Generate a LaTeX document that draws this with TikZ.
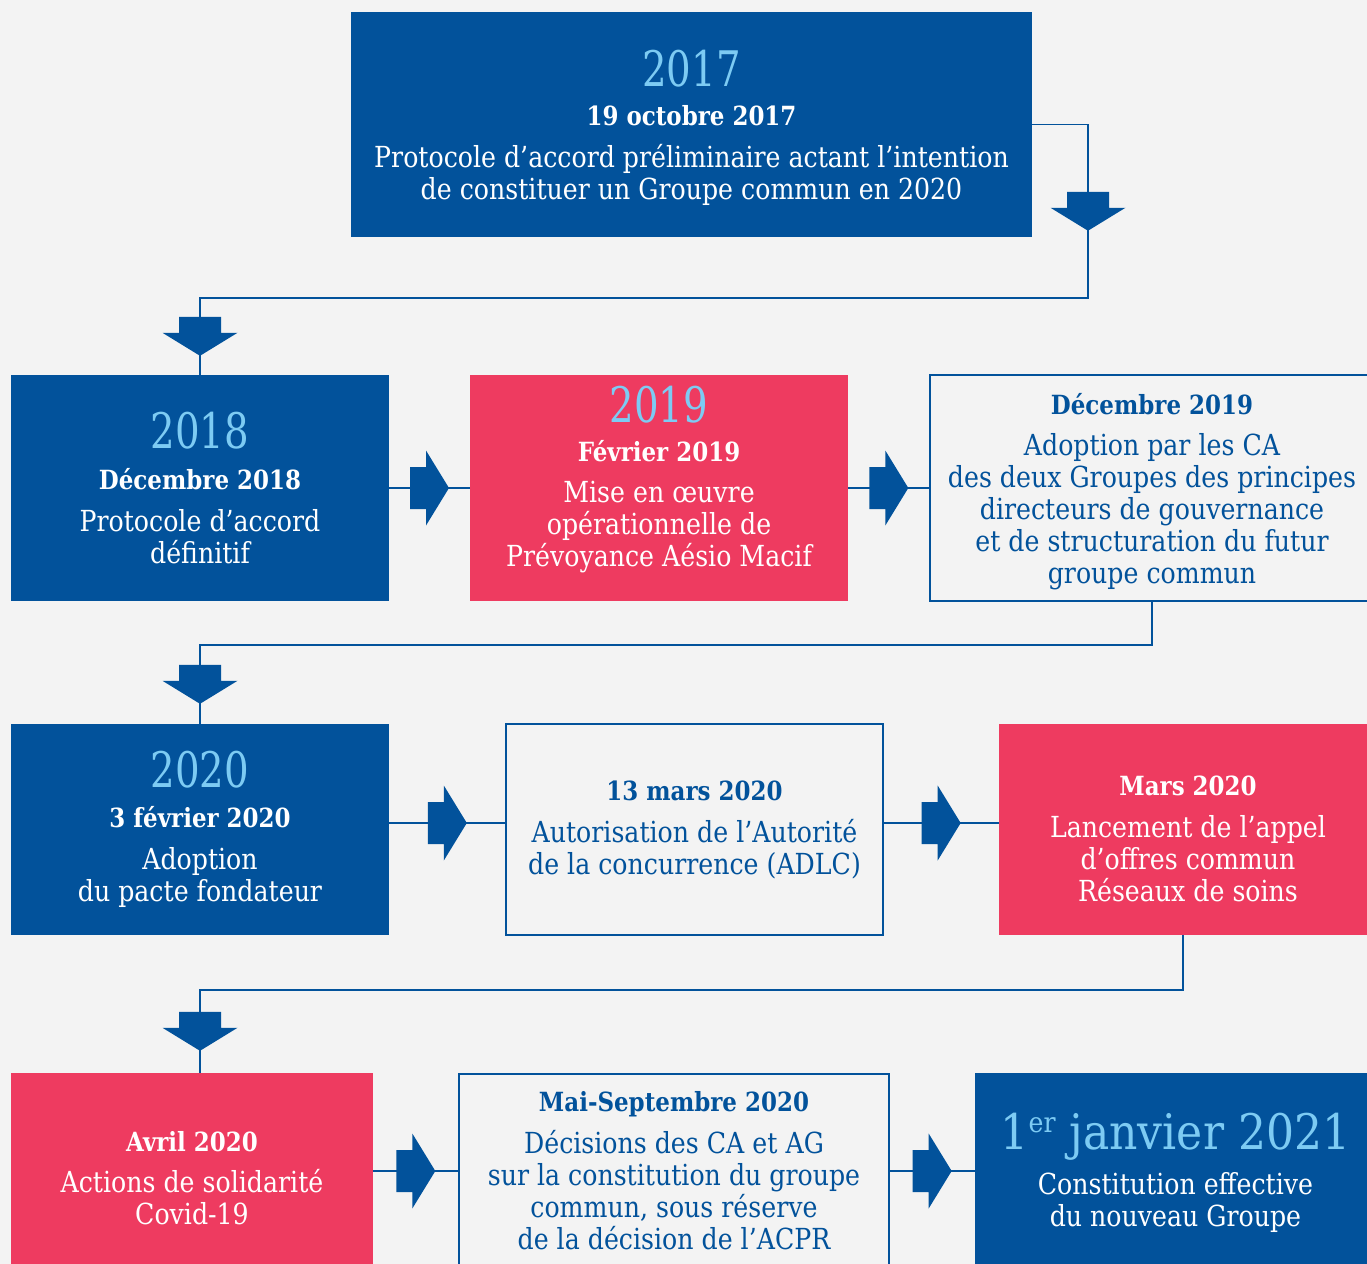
\documentclass[tikz,border=0pt]{standalone}
\usepackage{fontspec}
\setmainfont{DejaVu Serif}[FakeStretch=0.87]
\newfontfamily\yearfont{DejaVu Serif}[FakeStretch=0.79]
\newfontfamily\janfont{DejaVu Serif}[FakeStretch=0.9]
\usetikzlibrary{calc}
\definecolor{mblue}{RGB}{2,82,155}
\definecolor{mpink}{RGB}{238,59,96}
\definecolor{lblue}{RGB}{125,203,243}
\definecolor{bg}{RGB}{243,243,243}
\newcommand\yr[1]{{\yearfont\color{lblue}\fontsize{24.5}{16}\selectfont #1}}
\newcommand\dt[1]{{\bfseries\fontsize{13.2}{16}\selectfont #1}}
\newcommand\bodysize{\fontsize{14.5}{16}\selectfont}
\tikzset{
	box/.style={rectangle,inner sep=0pt,align=center,font=\bodysize},
	bluebox/.style={box,fill=mblue,text=white},
	pinkbox/.style={box,fill=mpink,text=white},
	linebox/.style={box,draw=mblue,line width=0.75pt,fill=bg,text=mblue},
	link/.style={draw=mblue,line width=0.75pt},
	rarrow/.pic={\fill[mblue] (-19.5,-21) -- (-3.5,-21) -- (-3.5,-37.5) -- (19.5,0) -- (-3.5,37.5) -- (-3.5,21) -- (-19.5,21) -- cycle;}
}
\begin{document}
\begin{tikzpicture}[x=0.5pt,y=-0.5pt]
	\useasboundingbox (0,0) rectangle (1367,1264);
	\clip (0,0) rectangle (1367,1264);
	\fill[bg] (0,0) rectangle (1367,1264);
	% boxes
	\node[bluebox,minimum width=340.5pt,minimum height=112.5pt,text depth=0pt] (b17) at (691.5,124.5)
		{\yr{2017}\\[3.5pt]\dt{19 octobre 2017}\\[5pt]Protocole d’accord préliminaire actant l’intention\\de constituer un Groupe commun en 2020};
	\node[bluebox,minimum width=189pt,minimum height=113pt] (b18) at (200,488)
		{\yr{2018}\\[4.5pt]\dt{Décembre 2018}\\[5pt]Protocole d’accord\\définitif};
	\node[pinkbox,minimum width=189pt,minimum height=113pt,text depth=12pt] (b19) at (659,488)
		{\yr{2019}\\[3.5pt]\dt{Février 2019}\\[4.5pt]Mise en œuvre\\opérationnelle de\\Prévoyance Aésio Macif};
	\node[linebox,minimum width=222pt,minimum height=113pt,text depth=0pt] (bdec19) at (1152,488)
		{\dt{Décembre 2019}\\[4.5pt]Adoption par les CA\\des deux Groupes des principes\\directeurs de gouvernance\\et de structuration du futur\\groupe commun};
	\node[bluebox,minimum width=189pt,minimum height=105.5pt] (b20) at (200,829.5)
		{\yr{2020}\\[4pt]\dt{3 février 2020}\\[5pt]Adoption\\du pacte fondateur};
	\node[linebox,minimum width=188.5pt,minimum height=105.5pt] (bmars13) at (694.5,829.5)
		{\dt{13 mars 2020}\\[5pt]Autorisation de l’Autorité\\de la concurrence (ADLC)};
	\node[pinkbox,minimum width=189pt,minimum height=105.5pt,text height=72pt] (bmars20) at (1188,829.5)
		{\dt{Mars 2020}\\[5pt]Lancement de l’appel\\d’offres commun\\Réseaux de soins};
	\node[pinkbox,minimum width=181pt,minimum height=105.5pt] (bavr) at (192,1178.5)
		{\dt{Avril 2020}\\[4.5pt]Actions de solidarité\\Covid-19};
	\node[linebox,minimum width=215pt,minimum height=97pt] (bmai) at (674,1171)
		{\dt{Mai-Septembre 2020}\\[5pt]Décisions des CA et AG\\sur la constitution du groupe\\commun, sous réserve\\de la décision de l’ACPR};
	\node[bluebox,minimum width=200.5pt,minimum height=97pt,text depth=0.5pt] (bjan) at (1175.5,1170)
		{{\janfont\color{lblue}\fontsize{24.5}{16}\selectfont 1\raisebox{8.5pt}{\fontsize{14}{14}\selectfont er} janvier 2021}\\[5pt]Constitution effective\\du nouveau Groupe};
	% links
	\coordinate (j1) at (1088,298);
	\coordinate (j2) at (1152,645);
	\coordinate (j3) at (1183,990);
	\draw[link] (b17.east) -| (j1) -| (b18.north);
	\draw[link] (bdec19.south) -- (j2) -| (b20.north);
	\draw[link] (j3 |- bmars20.south) -- (j3) -| (bavr.north -| b18.north);
	\draw[link] (b18.east) -- (b19.west);
	\draw[link] (b19.east) -- (bdec19.west);
	\draw[link] ([yshift=3.25pt]b20.east) -- ([yshift=3.25pt]bmars13.west);
	\draw[link] ([yshift=3.25pt]bmars13.east) -- ([yshift=3.25pt]bmars20.west);
	\draw[link] (bavr.east |- bmai.west) -- (bmai.west);
	\draw[link] (bmai.east) -- (bjan.west |- bmai.east);
	% arrows
	\pic[rotate=-90] at ($(b17.east -| j1)!.5!(j1)$) {rarrow};
	\pic[rotate=-90] at ($(j1 -| b18.north)!.5!(b18.north)$) {rarrow};
	\pic[rotate=-90] at ($(j2 -| b20.north)!.5!(b20.north)$) {rarrow};
	\pic[rotate=-90] at ($(j3 -| b20.north)!.5!(bavr.north -| b20.north)$) {rarrow};
	\pic at ($(b18.east)!.5!(b19.west)$) {rarrow};
	\pic at ($(b19.east)!.5!(bdec19.west)$) {rarrow};
	\pic at ($([yshift=3.25pt]b20.east)!.5!([yshift=3.25pt]bmars13.west)$) {rarrow};
	\pic at ($([yshift=3.25pt]bmars13.east)!.5!([yshift=3.25pt]bmars20.west)$) {rarrow};
	\pic at ($(bavr.east |- bmai.west)!.5!(bmai.west)$) {rarrow};
	\pic at ($(bmai.east)!.5!(bjan.west |- bmai.east)$) {rarrow};
\end{tikzpicture}
\end{document}
